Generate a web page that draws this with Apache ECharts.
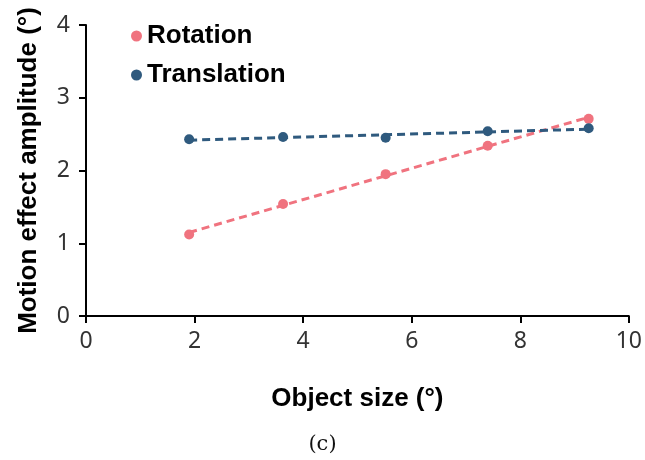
<!DOCTYPE html>
<html>
<head>
<meta charset="utf-8">
<script src="https://cdn.jsdelivr.net/npm/echarts@6/dist/echarts.min.js"></script>
<style>
  html, body { margin: 0; padding: 0; background: #fff; }
  #chart { width: 645px; height: 460px; }
</style>
</head>
<body>
<div id="chart"></div>
<script>
// object size (deg) for each condition
const objectSize = [1.9, 3.63, 5.52, 7.4, 9.26]
const rotation = [1.12, 1.54, 1.95, 2.34, 2.71]
const translation = [2.43, 2.46, 2.45, 2.54, 2.58]
const xTicks = [0, 2, 4, 6, 8, 10]
const yTicks = [0, 1, 2, 3, 4]

const chart = echarts.init(document.getElementById('chart'))

// least squares line through the points, drawn from first to last x
const fitLine = (xs, ys) => {
  const n = xs.length
  const mx = xs.reduce((a, b) => a + b, 0) / n
  const my = ys.reduce((a, b) => a + b, 0) / n
  let sxy = 0, sxx = 0
  xs.forEach((x, i) => { sxy += (x - mx) * (ys[i] - my); sxx += (x - mx) * (x - mx) })
  const k = sxy / sxx
  const b = my - k * mx
  const x0 = xs[0], x1 = xs[n - 1]
  return [[x0, k * x0 + b], [x1, k * x1 + b]]
}

const pairs = ys => objectSize.map((x, i) => [x, ys[i]])

const pink = '#f0737f'
const navy = '#2f5a7e'
const titleFont = 'Liberation Sans'

const option = {
  animation: false,
  grid: { left: 86, right: 15, top: 25, bottom: 144 },
  title: {
    text: '(c)',
    left: 'center',
    top: 429,
    textStyle: { fontFamily: 'DejaVu Serif', fontWeight: 'normal', fontSize: 21, color: '#111' }
  },
  legend: {
    orient: 'vertical',
    left: 126,
    top: 18,
    itemGap: 13,
    icon: 'circle',
    itemWidth: 11,
    itemHeight: 11,
    data: ['Rotation', 'Translation'],
    textStyle: { fontFamily: titleFont, fontWeight: 'bold', fontSize: 26, color: '#000' }
  },
  xAxis: {
    type: 'value',
    min: 0,
    max: 10,
    interval: 2,
    name: 'Object size (°)',
    nameLocation: 'middle',
    nameGap: 70,
    nameTextStyle: { fontFamily: titleFont, fontWeight: 'bold', fontSize: 26, color: '#000' },
    splitLine: { show: false },
    axisLine: { lineStyle: { color: '#000', width: 2 } },
    axisTick: { show: true, length: 7, lineStyle: { color: '#000', width: 2 } },
    axisLabel: {
      fontFamily: 'Noto Sans', fontSize: 23, color: '#333', margin: 14,
      formatter: v => xTicks.includes(v) ? String(v) : ''
    }
  },
  yAxis: {
    type: 'value',
    min: 0,
    max: 4,
    interval: 1,
    name: 'Motion effect amplitude (°)',
    nameLocation: 'middle',
    nameGap: 44,
    nameTextStyle: { fontFamily: titleFont, fontWeight: 'bold', fontSize: 26, color: '#000' },
    splitLine: { show: false },
    axisLine: { show: true, lineStyle: { color: '#000', width: 2 } },
    axisTick: { show: true, length: 7, lineStyle: { color: '#000', width: 2 } },
    axisLabel: {
      fontFamily: 'Noto Sans', fontSize: 23, color: '#333', margin: 16,
      formatter: v => yTicks.includes(v) ? String(v) : ''
    }
  },
  series: [
    {
      name: 'Rotation',
      type: 'scatter',
      data: pairs(rotation),
      symbolSize: 10,
      itemStyle: { color: pink, opacity: 1 },
      z: 3
    },
    {
      name: 'Translation',
      type: 'scatter',
      data: pairs(translation),
      symbolSize: 10,
      itemStyle: { color: navy, opacity: 1 },
      z: 3
    },
    {
      name: 'Rotation trend',
      type: 'line',
      data: fitLine(objectSize, rotation),
      showSymbol: false,
      lineStyle: { color: pink, width: 3, type: [8, 5] },
      z: 2
    },
    {
      name: 'Translation trend',
      type: 'line',
      data: fitLine(objectSize, translation),
      showSymbol: false,
      lineStyle: { color: navy, width: 3, type: [8, 5] },
      z: 2
    }
  ]
}

chart.setOption(option)
window.addEventListener('resize', () => { chart.resize() })
</script>
</body>
</html>
